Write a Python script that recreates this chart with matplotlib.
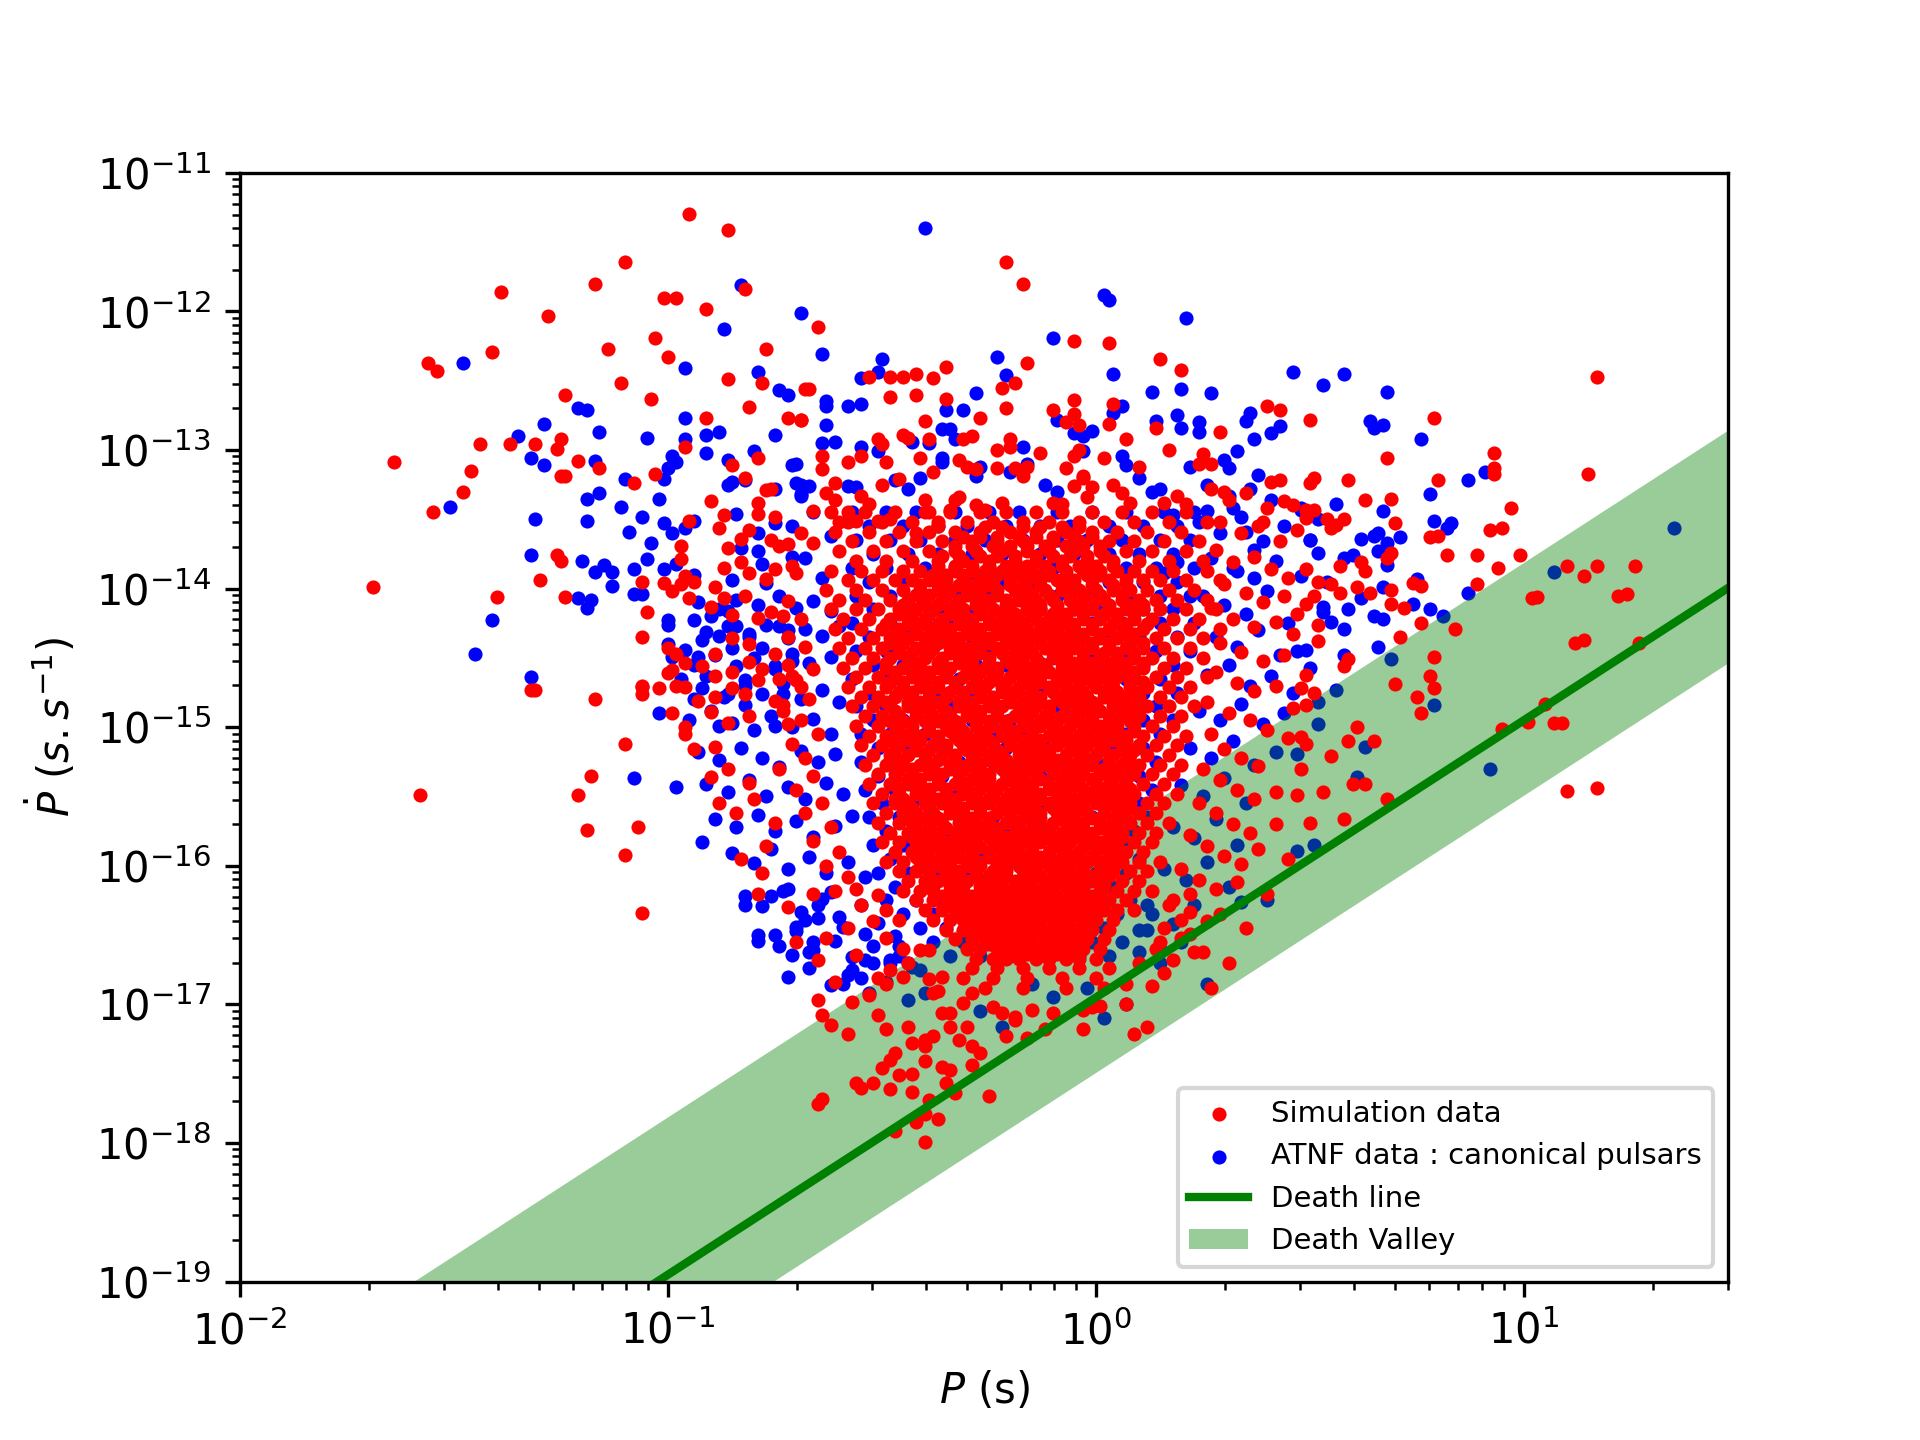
import numpy as np
import matplotlib
matplotlib.use("Agg")
from matplotlib import pyplot as plt

# ==================== Données ====================
# toutes les valeurs sont en log10 : "logP logPdot" par point

# simulation : points isolés (autour du nuage)
sim_points = """
-0.95 -11.30  -0.86 -11.41  -1.10 -11.64  -1.17 -11.80  -1.39 -11.86  -1.28 -12.03
-1.01 -11.90  -0.98 -11.90  -0.91 -11.98  -0.82 -11.84  -1.03 -12.19  -1.14 -12.27
-1.00 -12.33  -1.41 -12.29  -1.56 -12.37  -1.54 -12.43  -0.86 -12.49  -0.77 -12.27
-0.78 -12.52  -1.11 -12.52  -1.04 -12.63  -1.24 -12.60  -0.81 -12.69  -0.91 -12.77
-0.72 -12.77  -0.69 -12.78  -0.68 -12.56  -1.44 -12.96  -1.37 -12.96  -1.31 -12.96
-1.25 -12.92  -1.26 -12.99  -1.21 -13.08  -1.16 -13.13  -1.25 -13.19  -1.24 -13.19
-1.64 -13.09  -1.46 -13.15  -1.48 -13.30  -1.55 -13.45  -0.96 -12.98  -1.03 -13.17
-1.08 -13.24  -0.85 -13.11  -0.79 -13.06  -0.82 -13.20  -0.77 -13.29  -0.76 -13.28
-0.79 -13.38  -0.90 -13.37  -0.87 -13.47  -0.79 -13.46  -0.75 -13.48  -0.95 -13.51
-0.88 -13.56  -0.97 -13.69  -0.81 -13.58  -0.83 -13.64  -0.76 -13.65  -0.74 -13.69
-0.72 -13.68  -0.86 -13.71  -0.83 -13.81  -0.87 -13.85  -0.81 -13.89  -0.77 -13.93
-0.75 -13.86  -0.71 -13.84  -0.70 -13.89  -1.26 -13.76  -1.25 -13.80  -1.30 -13.94
-1.06 -13.95  -1.01 -13.96  -0.99 -14.02  -0.96 -13.91  -0.94 -13.95  -0.95 -14.07
-0.89 -13.99  -0.87 -14.07  -0.82 -14.05  -0.90 -14.13  -0.85 -14.19  -0.79 -14.21
-0.76 -14.17  -0.73 -14.20  -0.72 -14.09  -0.69 -14.22  -1.69 -13.99  -1.40 -14.06
-1.24 -14.06  -1.06 -14.35  -0.98 -14.47  -0.96 -14.54  -0.92 -14.56  -0.89 -14.63
-0.89 -14.47  -0.85 -14.36  -0.85 -14.60  -0.81 -14.40  -0.81 -14.53  -0.78 -14.58
-0.79 -14.66  -1.00 -14.61  -1.02 -14.72  -1.06 -14.71  -1.06 -14.76  -0.96 -14.71
-0.89 -14.78  -0.93 -14.81  -0.90 -14.89  -0.85 -14.72  -0.82 -14.76  -1.32 -14.73
-1.31 -14.73  -1.17 -14.80  -0.75 -14.47  -0.72 -14.55  -0.74 -14.65  -0.71 -14.63
-0.69 -14.71  -0.75 -14.81  -0.73 -14.84  -0.72 -14.98  -0.81 -14.92  -0.86 -14.97
-0.96 -15.00
-1.58 -15.49  -1.21 -15.49  -1.18 -15.35  -1.10 -15.12  -1.06 -16.34  -1.10 -15.92
-1.07 -15.72  -1.06 -14.70  -0.99 -14.90  -0.98 -14.70  -1.05 -14.17  -1.00 -14.43
-0.99 -14.59  -0.97 -13.97  -0.97 -13.79  -0.96 -15.05  -0.94 -15.16  -0.89 -15.14
-0.90 -15.36  -0.86 -15.30  -0.81 -15.40  -0.84 -15.62  -0.75 -15.69  -0.80 -15.52
-0.77 -15.86  -0.78 -16.05  -0.83 -15.95  -0.88 -15.55  -0.79 -16.20  -0.72 -16.30
-0.70 -16.55  -0.65 -16.68  -1.19 -15.74
-0.72 -14.35  -0.68 -14.42  -0.66 -14.58  -0.70 -14.66  -0.67 -14.80  -0.73 -14.88
-0.69 -14.95  -0.65 -15.05  -0.71 -15.12  -0.68 -15.22  -0.74 -15.30  -0.66 -15.35
-0.70 -15.45  -0.64 -15.55  -0.68 -15.62  -0.62 -15.72  -0.66 -15.82  -0.60 -15.90
-0.63 -16.00  -0.58 -16.08  -0.61 -16.18  -0.55 -16.28  -0.52 -16.40  -0.58 -16.45
-0.49 -16.52  -0.45 -16.60
-0.21 -11.64  -0.17 -11.80  -0.65 -12.11  -0.05 -12.21   0.03 -12.23   0.15 -12.34
 0.20 -12.42  -0.16 -12.37  -0.35 -12.40  -0.53 -12.47  -0.48 -12.47  -0.45 -12.47
-0.42 -12.45  -0.38 -12.48  -0.22 -12.55  -0.19 -12.52  -0.67 -12.56  -0.48 -12.62
-0.42 -12.60  -0.35 -12.63  -0.21 -12.70  -0.27 -12.77  -0.40 -12.79  -0.69 -12.78
-0.10 -12.71  -0.05 -12.64  -0.05 -12.74  -0.07 -12.80  -0.04 -12.82   0.04 -12.67
 0.03 -12.81   0.40 -12.68   0.43 -12.71   0.50 -12.78   0.14 -12.84   0.29 -12.87
 0.07 -12.92   0.17 -13.00  -0.51 -12.92  -0.50 -12.96  -0.45 -12.89  -0.44 -12.91
-0.39 -12.92  -0.31 -12.92  -0.29 -12.90  -0.23 -13.00  -0.20 -12.92  -0.20 -12.98
-0.13 -13.02  -0.04 -13.00  -0.05 -13.04   0.02 -13.06   0.10 -13.12   0.25 -13.03
 0.24 -13.10   0.27 -13.10  -0.64 -13.04  -0.64 -13.14  -0.58 -13.09  -0.55 -13.04
-0.49 -13.09  -0.41 -13.06  -0.38 -13.16  -0.32 -13.07  -0.30 -13.12  -0.28 -13.14
-0.23 -13.13  -0.19 -13.13  -0.16 -13.12  -0.17 -13.19  -0.07 -13.13  -0.03 -13.19
 0.30 -13.30   0.41 -13.23   0.43 -13.22   0.50 -13.24   0.46 -13.40   0.49 -13.49
 0.39 -13.52  -0.61 -13.24  -0.63 -13.31  -0.61 -13.36  -0.50 -13.25  -0.46 -13.21
-0.55 -13.33  -0.53 -13.39  -0.66 -13.44  -0.69 -13.60  -0.66 -13.67  -0.60 -13.52
-0.58 -13.45  -0.56 -13.51  -0.51 -13.51  -0.48 -13.50  -0.40 -13.36  -0.39 -13.45
-0.37 -13.55  -0.42 -13.60  -0.33 -13.36  -0.32 -13.34  -0.34 -13.43  -0.28 -13.40
-0.26 -13.43  -0.22 -13.38  -0.10 -13.38  -0.08 -13.39  -0.05 -13.26  -0.03 -13.20
-0.01 -13.27  -0.02 -13.34   0.04 -13.25   0.06 -13.31   0.08 -13.38   0.16 -13.38
 0.19 -13.33   0.21 -13.39
 0.27 -13.28   0.31 -13.36   0.35 -13.31   0.40 -13.42   0.44 -13.37   0.29 -13.52
 0.34 -13.60   0.38 -13.55   0.43 -13.66   0.47 -13.58   0.28 -13.72   0.32 -13.81
 0.37 -13.77   0.41 -13.86   0.45 -13.92   0.30 -13.97   0.35 -14.03   0.39 -14.10
 0.44 -14.05   0.27 -14.14   0.32 -14.22   0.37 -14.28   0.42 -14.24   0.46 -14.33
 0.29 -14.39   0.34 -14.46   0.39 -14.52   0.44 -14.48   0.28 -14.60   0.33 -14.68
 0.37 -14.74   0.42 -14.70   0.26 -14.82   0.31 -14.90   0.36 -14.95   0.40 -15.02
 0.45 -15.08   0.27 -15.05   0.30 -15.16   0.34 -15.22   0.38 -15.28   0.25 -15.30
 0.29 -15.38   0.33 -15.45   0.37 -15.52   0.42 -15.47   0.24 -15.55   0.28 -15.62
 0.32 -15.70   0.36 -15.76   0.22 -15.78   0.26 -15.86   0.30 -15.93   0.34 -15.99
 0.20 -16.02   0.24 -16.10   0.28 -16.17   0.18 -16.25   0.22 -16.33   0.26 -16.40
 0.16 -16.45   0.20 -16.52   0.14 -16.60   0.18 -16.68   0.23 -16.62   0.47 -14.18
 0.49 -14.62   0.46 -14.86   0.48 -15.30
 1.17 -12.47   0.79 -12.77   0.68 -13.06   0.93 -13.02   0.93 -13.13   0.93 -13.17
 1.15 -13.17   0.80 -13.22   0.51 -13.20   0.59 -13.22   0.63 -13.36   0.69 -13.35
 0.97 -13.42   0.70 -13.53   0.92 -13.58   0.78 -13.63   0.80 -13.62   0.82 -13.76
 0.89 -13.76   0.99 -13.76   1.10 -13.84   1.14 -13.91   1.17 -13.84   1.26 -13.84
 1.22 -14.05   1.02 -14.07   0.89 -13.97   0.76 -13.98   0.74 -13.96   0.54 -13.50
 0.56 -13.54   0.58 -13.50   0.55 -13.56   0.57 -13.84   0.62 -13.81   0.63 -13.87
 0.61 -13.99   0.64 -14.03   0.69 -13.74   0.68 -13.78   0.69 -14.01   0.69 -14.11
 0.72 -14.14   0.49 -13.86   0.52 -13.95   0.51 -14.05   0.49 -14.11   0.55 -13.97
 0.57 -14.03   0.52 -14.26   0.52 -14.38   0.49 -13.43   0.51 -13.43   0.76 -14.25
 0.71 -14.35   0.84 -14.29   1.12 -14.39   0.79 -14.49   0.59 -14.51   0.58 -14.56
 0.78 -14.63   0.79 -14.72   0.70 -14.69   0.75 -14.78   0.76 -14.90   0.48 -14.72
 0.51 -14.75   0.49 -14.84   0.61 -15.00   0.65 -15.10   0.48 -15.07   0.49 -15.12
 0.55 -15.21   0.63 -15.41   0.47 -15.49   1.07 -14.97   0.95 -15.01   0.68 -15.52
 0.58 -15.66   1.17 -15.44   1.10 -15.46   1.09 -14.97   1.01 -14.96   1.05 -14.83
 1.27 -14.39   1.14 -14.37   1.03 -14.06   0.95 -13.56   0.94 -13.85   1.24 -14.04
 0.59 -15.10   0.60 -15.41   0.50 -15.69   0.53 -15.47   0.42 -15.70   0.38 -15.88
 0.45 -15.95   0.33 -16.12   0.40 -16.20   0.29 -16.35   0.35 -16.45   0.25 -16.62
 0.31 -16.70   0.27 -16.88
-0.65 -17.72  -0.64 -17.68  -0.56 -17.57  -0.55 -17.60  -0.52 -17.57  -0.48 -17.61
-0.50 -17.46  -0.48 -17.40  -0.47 -17.35  -0.46 -17.51  -0.43 -17.50  -0.43 -17.63
-0.40 -17.41  -0.35 -17.57  -0.34 -17.47  -0.33 -17.64  -0.36 -17.45  -0.29 -17.44
-0.25 -17.66  -0.39 -17.69  -0.40 -17.79  -0.37 -17.83  -0.42 -17.85  -0.47 -17.91
-0.40 -17.99  -0.44 -17.16  -0.43 -17.28  -0.40 -17.26  -0.38 -17.23  -0.40 -17.30
-0.49 -17.18  -0.51 -17.08  -0.53 -16.93  -0.58 -17.21  -0.62 -17.15  -0.64 -17.08
-0.65 -16.97  -0.57 -16.98  -0.61 -16.84  -0.34 -17.16  -0.32 -17.26  -0.29 -17.30
-0.27 -17.35  -0.36 -17.06  -0.34 -17.06  -0.30 -17.16  -0.31 -16.99  -0.29 -16.92
-0.24 -17.02  -0.22 -17.06  -0.19 -17.11  -0.21 -17.23  -0.16 -17.24  -0.19 -17.09
-0.12 -17.18  -0.10 -17.06  -0.15 -17.04  -0.03 -17.18  -0.03 -17.04  -0.01 -17.02
 0.01 -17.01   0.09 -17.21   0.12 -17.16   0.07 -17.00   0.13 -16.87   0.16 -16.77
 0.07 -16.85   0.10 -16.70   0.20 -16.39   0.22 -16.49   0.15 -16.55   0.17 -16.28
 0.22 -16.20  -0.38 -16.92  -0.36 -16.80  -0.39 -16.82  -0.37 -16.90  -0.44 -16.70
-0.41 -16.61  -0.39 -16.61  -0.48 -16.75  -0.45 -16.80  -0.51 -16.81  -0.49 -16.85
-0.56 -16.64  -0.63 -16.52  -0.66 -16.20  -0.56 -16.17  -0.51 -16.21  -0.49 -16.32
-0.46 -16.39
"""

# simulation : coeur dense du nuage, par rangées "logPdot: logP logP ..."
sim_core = """
-13.45: -0.62 -0.54 -0.47 -0.40 -0.34 -0.27 -0.21 -0.14 -0.08 -0.01 0.06 0.13 0.21
-13.52: -0.58 -0.50 -0.43 -0.37 -0.30 -0.24 -0.17 -0.11 -0.04 0.02 0.09 0.17 0.26
-13.59: -0.61 -0.53 -0.46 -0.39 -0.33 -0.27 -0.20 -0.14 -0.07 -0.01 0.05 0.12 0.20
-13.66: -0.57 -0.49 -0.42 -0.36 -0.29 -0.23 -0.17 -0.10 -0.04 0.03 0.09 0.16 0.24
-13.73: -0.60 -0.52 -0.45 -0.39 -0.33 -0.28 -0.22 -0.16 -0.11 -0.05 0.01 0.07 0.13 0.21
-13.80: -0.56 -0.49 -0.43 -0.37 -0.31 -0.25 -0.19 -0.14 -0.08 -0.02 0.04 0.10 0.17 0.25
-13.87: -0.62 -0.55 -0.50 -0.45 -0.41 -0.37 -0.33 -0.29 -0.26 -0.22 -0.18 -0.15 -0.11 -0.07 -0.03 0.01 0.05 0.09 0.13 0.18 0.26
-13.94: -0.58 -0.52 -0.47 -0.43 -0.39 -0.35 -0.31 -0.27 -0.24 -0.20 -0.16 -0.13 -0.09 -0.05 -0.01 0.03 0.07 0.11 0.15 0.21 0.29
-14.01: -0.63 -0.56 -0.50 -0.45 -0.41 -0.37 -0.34 -0.30 -0.27 -0.23 -0.19 -0.16 -0.12 -0.08 -0.04 0.00 0.04 0.08 0.12 0.17 0.23
-14.08: -0.60 -0.54 -0.48 -0.44 -0.40 -0.36 -0.32 -0.28 -0.25 -0.21 -0.18 -0.14 -0.10 -0.06 -0.02 0.02 0.06 0.10 0.14 0.19 0.26
-14.15: -0.62 -0.56 -0.51 -0.46 -0.42 -0.38 -0.34 -0.31 -0.27 -0.24 -0.20 -0.16 -0.13 -0.09 -0.05 -0.01 0.03 0.07 0.11 0.15 0.21 0.28
-14.22: -0.59 -0.53 -0.48 -0.44 -0.40 -0.36 -0.32 -0.29 -0.25 -0.22 -0.18 -0.14 -0.11 -0.07 -0.03 0.01 0.05 0.09 0.13 0.18 0.24
-14.29: -0.61 -0.55 -0.50 -0.46 -0.42 -0.38 -0.34 -0.30 -0.27 -0.23 -0.20 -0.16 -0.12 -0.09 -0.05 -0.01 0.03 0.07 0.11 0.16 0.22 0.29
-14.36: -0.58 -0.52 -0.48 -0.44 -0.40 -0.36 -0.32 -0.28 -0.25 -0.21 -0.18 -0.14 -0.10 -0.07 -0.03 0.01 0.05 0.09 0.14 0.19 0.25
-14.43: -0.60 -0.54 -0.50 -0.46 -0.42 -0.38 -0.34 -0.30 -0.27 -0.23 -0.19 -0.16 -0.12 -0.08 -0.05 -0.01 0.03 0.07 0.11 0.16 0.22
-14.50: -0.57 -0.52 -0.48 -0.44 -0.40 -0.36 -0.32 -0.29 -0.25 -0.21 -0.18 -0.14 -0.10 -0.07 -0.03 0.01 0.05 0.09 0.13 0.18 0.25
-14.57: -0.59 -0.54 -0.49 -0.45 -0.41 -0.37 -0.34 -0.30 -0.26 -0.23 -0.19 -0.15 -0.12 -0.08 -0.04 0.00 0.03 0.07 0.11 0.16 0.21
-14.64: -0.56 -0.51 -0.47 -0.43 -0.39 -0.35 -0.31 -0.28 -0.24 -0.20 -0.17 -0.13 -0.09 -0.06 -0.02 0.02 0.05 0.09 0.14 0.19 0.26
-14.71: -0.58 -0.53 -0.49 -0.45 -0.41 -0.37 -0.33 -0.29 -0.26 -0.22 -0.18 -0.15 -0.11 -0.07 -0.04 0.00 0.04 0.08 0.12 0.17 0.22
-14.78: -0.55 -0.51 -0.47 -0.43 -0.39 -0.35 -0.31 -0.27 -0.24 -0.20 -0.16 -0.13 -0.09 -0.05 -0.02 0.02 0.06 0.10 0.15 0.20
-14.85: -0.57 -0.52 -0.48 -0.44 -0.40 -0.36 -0.32 -0.29 -0.25 -0.22 -0.18 -0.14 -0.11 -0.07 -0.03 0.00 0.04 0.08 0.12 0.17 0.23
-14.92: -0.54 -0.50 -0.46 -0.42 -0.38 -0.34 -0.30 -0.27 -0.23 -0.19 -0.16 -0.12 -0.08 -0.05 -0.01 0.03 0.06 0.10 0.15 0.20
-14.99: -0.56 -0.51 -0.47 -0.43 -0.39 -0.35 -0.32 -0.28 -0.24 -0.21 -0.17 -0.13 -0.10 -0.06 -0.02 0.01 0.05 0.09 0.13 0.18
-15.06: -0.53 -0.49 -0.45 -0.41 -0.37 -0.33 -0.30 -0.26 -0.22 -0.19 -0.15 -0.11 -0.08 -0.04 0.00 0.03 0.07 0.11 0.16 0.21
-15.13: -0.55 -0.50 -0.46 -0.42 -0.38 -0.35 -0.31 -0.27 -0.24 -0.20 -0.16 -0.13 -0.09 -0.05 -0.02 0.02 0.06 0.10 0.14 0.19
-15.20: -0.52 -0.48 -0.44 -0.40 -0.36 -0.33 -0.29 -0.25 -0.22 -0.18 -0.14 -0.11 -0.07 -0.03 0.00 0.04 0.08 0.12 0.17
-15.27: -0.54 -0.49 -0.45 -0.41 -0.38 -0.34 -0.30 -0.27 -0.23 -0.19 -0.16 -0.12 -0.08 -0.05 -0.01 0.03 0.06 0.10 0.15 0.20
-15.34: -0.51 -0.47 -0.43 -0.39 -0.36 -0.32 -0.28 -0.25 -0.21 -0.17 -0.14 -0.10 -0.06 -0.03 0.01 0.05 0.09 0.13 0.18
-15.41: -0.53 -0.48 -0.44 -0.41 -0.37 -0.33 -0.30 -0.26 -0.22 -0.19 -0.15 -0.11 -0.08 -0.04 0.00 0.03 0.07 0.11 0.16
-15.48: -0.50 -0.46 -0.42 -0.39 -0.35 -0.31 -0.28 -0.24 -0.20 -0.17 -0.13 -0.09 -0.06 -0.02 0.02 0.05 0.09 0.14 0.19
-15.55: -0.52 -0.47 -0.44 -0.40 -0.36 -0.33 -0.29 -0.25 -0.22 -0.18 -0.15 -0.11 -0.07 -0.04 0.00 0.04 0.08 0.12 0.16
-15.62: -0.49 -0.45 -0.42 -0.38 -0.34 -0.31 -0.27 -0.23 -0.20 -0.16 -0.13 -0.09 -0.05 -0.02 0.02 0.06 0.10 0.14
-15.69: -0.51 -0.46 -0.43 -0.39 -0.36 -0.32 -0.28 -0.25 -0.21 -0.18 -0.14 -0.10 -0.07 -0.03 0.01 0.04 0.08 0.12 0.17
-15.76: -0.48 -0.44 -0.41 -0.37 -0.33 -0.30 -0.26 -0.23 -0.19 -0.15 -0.12 -0.08 -0.05 -0.01 0.03 0.06 0.10 0.14
-15.83: -0.50 -0.46 -0.42 -0.38 -0.35 -0.31 -0.28 -0.24 -0.20 -0.17 -0.13 -0.10 -0.06 -0.02 0.01 0.05 0.09 0.13
-15.90: -0.47 -0.43 -0.40 -0.36 -0.33 -0.29 -0.25 -0.22 -0.18 -0.15 -0.11 -0.07 -0.04 0.00 0.03 0.07 0.11
-15.97: -0.49 -0.45 -0.41 -0.38 -0.34 -0.30 -0.27 -0.23 -0.20 -0.16 -0.12 -0.09 -0.05 -0.02 0.02 0.06 0.10 0.15
-16.04: -0.46 -0.42 -0.39 -0.35 -0.32 -0.28 -0.24 -0.21 -0.17 -0.14 -0.10 -0.07 -0.03 0.01 0.04 0.08 0.12
-16.11: -0.44 -0.40 -0.37 -0.33 -0.30 -0.26 -0.23 -0.19 -0.16 -0.12 -0.08 -0.05 -0.01 0.02 0.06 0.10
-16.18: -0.45 -0.41 -0.38 -0.34 -0.31 -0.27 -0.24 -0.20 -0.17 -0.13 -0.10 -0.06 -0.03 0.01 0.05 0.09 0.13
-16.25: -0.42 -0.38 -0.35 -0.31 -0.28 -0.25 -0.21 -0.18 -0.14 -0.11 -0.07 -0.04 0.00 0.03 0.07
-16.32: -0.40 -0.36 -0.33 -0.29 -0.26 -0.22 -0.19 -0.15 -0.12 -0.09 -0.05 -0.02 0.02 0.05 0.09
-16.39: -0.38 -0.34 -0.31 -0.27 -0.24 -0.20 -0.17 -0.14 -0.10 -0.07 -0.03 0.00 0.04
-16.46: -0.35 -0.31 -0.28 -0.25 -0.21 -0.18 -0.15 -0.11 -0.08 -0.04 -0.01 0.03
-16.53: -0.33 -0.29 -0.26 -0.22 -0.19 -0.16 -0.12 -0.09 -0.05 -0.02 0.02
-16.60: -0.30 -0.27 -0.23 -0.20 -0.17 -0.13 -0.10 -0.06 -0.03 0.01
-16.67: -0.28 -0.24 -0.21 -0.18 -0.14 -0.11 -0.07 -0.04 0.00
-16.74: -0.29 -0.23 -0.17 -0.11 -0.04 0.03
-16.81: -0.31 -0.24 -0.16 -0.08 0.00
-16.88: -0.26 -0.17 -0.07 0.02
"""

# simulation : centre le plus serré du coeur (rangées intercalées)
sim_centre = """
-13.555: -0.26 -0.22 -0.17 -0.13 -0.08 -0.04
-13.625: -0.31 -0.27 -0.23 -0.18 -0.14 -0.10 -0.05 -0.01
-13.695: -0.33 -0.29 -0.24 -0.20 -0.16 -0.12 -0.07 -0.03 0.01
-13.765: -0.36 -0.32 -0.27 -0.23 -0.19 -0.14 -0.10 -0.06 -0.02 0.02
-13.835: -0.37 -0.33 -0.29 -0.25 -0.21 -0.16 -0.12 -0.08 -0.04 0.00 0.04
-13.905: -0.38 -0.35 -0.31 -0.26 -0.23 -0.19 -0.14 -0.11 -0.07 -0.02 0.01
-13.975: -0.41 -0.37 -0.32 -0.29 -0.25 -0.20 -0.17 -0.13 -0.08 -0.05 -0.01 0.04 0.07
-14.045: -0.42 -0.39 -0.35 -0.30 -0.27 -0.23 -0.18 -0.15 -0.11 -0.06 -0.03 0.01 0.06
-14.115: -0.45 -0.40 -0.37 -0.33 -0.28 -0.25 -0.21 -0.16 -0.13 -0.09 -0.04 -0.01 0.03 0.08 0.11
-14.185: -0.46 -0.43 -0.39 -0.34 -0.31 -0.27 -0.22 -0.19 -0.15 -0.10 -0.07 -0.03 0.02 0.05 0.09
-14.255: -0.49 -0.44 -0.41 -0.37 -0.32 -0.29 -0.25 -0.20 -0.17 -0.13 -0.08 -0.05 -0.01 0.04 0.07 0.12
-14.325: -0.47 -0.42 -0.39 -0.35 -0.30 -0.27 -0.23 -0.18 -0.15 -0.11 -0.06 -0.03 0.01 0.06 0.09
-14.395: -0.48 -0.45 -0.40 -0.37 -0.33 -0.28 -0.25 -0.21 -0.16 -0.13 -0.09 -0.04 -0.01 0.03 0.08 0.11
-14.465: -0.46 -0.43 -0.39 -0.34 -0.31 -0.27 -0.22 -0.19 -0.15 -0.10 -0.07 -0.03 0.02 0.05 0.09
-14.535: -0.49 -0.44 -0.41 -0.37 -0.32 -0.29 -0.25 -0.20 -0.17 -0.13 -0.08 -0.05 -0.01 0.04 0.07 0.11
-14.605: -0.47 -0.42 -0.39 -0.35 -0.30 -0.27 -0.23 -0.18 -0.15 -0.11 -0.06 -0.03 0.01 0.06 0.09
-14.675: -0.48 -0.45 -0.40 -0.37 -0.33 -0.28 -0.25 -0.21 -0.16 -0.13 -0.09 -0.04 -0.01 0.03 0.08 0.11
-14.745: -0.46 -0.43 -0.39 -0.34 -0.31 -0.27 -0.22 -0.19 -0.15 -0.10 -0.07 -0.03 0.02 0.05 0.09
-14.815: -0.49 -0.44 -0.41 -0.37 -0.32 -0.29 -0.25 -0.20 -0.17 -0.13 -0.08 -0.05 -0.01 0.04 0.07 0.10
-14.885: -0.47 -0.42 -0.39 -0.35 -0.30 -0.27 -0.23 -0.18 -0.15 -0.11 -0.06 -0.03 0.01 0.06 0.09
-14.955: -0.48 -0.45 -0.40 -0.37 -0.33 -0.28 -0.25 -0.21 -0.16 -0.13 -0.09 -0.04 -0.01 0.03 0.08
-15.025: -0.46 -0.43 -0.39 -0.34 -0.31 -0.27 -0.22 -0.19 -0.15 -0.10 -0.07 -0.03 0.02 0.05 0.09
-15.095: -0.48 -0.44 -0.41 -0.37 -0.32 -0.29 -0.25 -0.20 -0.17 -0.13 -0.08 -0.05 -0.01 0.04 0.07
-15.165: -0.47 -0.42 -0.39 -0.35 -0.30 -0.27 -0.23 -0.18 -0.15 -0.11 -0.06 -0.03 0.01 0.06 0.09
-15.235: -0.48 -0.45 -0.40 -0.37 -0.33 -0.28 -0.25 -0.21 -0.16 -0.13 -0.09 -0.04 -0.01 0.03 0.07
-15.305: -0.46 -0.43 -0.39 -0.34 -0.31 -0.27 -0.22 -0.19 -0.15 -0.10 -0.07 -0.03 0.02 0.05 0.08
-15.375: -0.47 -0.44 -0.41 -0.37 -0.32 -0.29 -0.25 -0.20 -0.17 -0.13 -0.08 -0.05 -0.01 0.04 0.07
-15.445: -0.46 -0.42 -0.39 -0.35 -0.30 -0.27 -0.23 -0.18 -0.15 -0.11 -0.06 -0.03 0.01 0.05 0.08
-15.515: -0.47 -0.45 -0.40 -0.37 -0.33 -0.28 -0.25 -0.21 -0.16 -0.13 -0.09 -0.04 -0.01 0.03 0.07
-15.585: -0.45 -0.43 -0.39 -0.34 -0.31 -0.27 -0.22 -0.19 -0.15 -0.10 -0.07 -0.03 0.02 0.05 0.08
-15.655: -0.44 -0.41 -0.37 -0.32 -0.29 -0.25 -0.20 -0.17 -0.13 -0.08 -0.05 -0.01 0.04 0.07
-15.725: -0.42 -0.39 -0.35 -0.30 -0.27 -0.23 -0.18 -0.15 -0.11 -0.06 -0.03 0.01 0.05
-15.795: -0.43 -0.40 -0.37 -0.33 -0.28 -0.25 -0.21 -0.16 -0.13 -0.09 -0.04 -0.01 0.03 0.06
-15.865: -0.41 -0.38 -0.34 -0.31 -0.27 -0.22 -0.19 -0.15 -0.10 -0.07 -0.03 0.02 0.05
-15.935: -0.42 -0.39 -0.36 -0.32 -0.29 -0.25 -0.20 -0.17 -0.13 -0.08 -0.05 -0.01 0.04
-16.005: -0.40 -0.37 -0.34 -0.30 -0.27 -0.23 -0.18 -0.15 -0.11 -0.06 -0.03 0.01 0.04
-16.075: -0.39 -0.35 -0.32 -0.28 -0.25 -0.21 -0.16 -0.13 -0.09 -0.04 -0.01 0.03
-16.145: -0.38 -0.34 -0.31 -0.27 -0.22 -0.19 -0.15 -0.10 -0.07 -0.03 0.02
-16.215: -0.36 -0.33 -0.29 -0.26 -0.23 -0.20 -0.16 -0.12 -0.09 -0.05 -0.01 0.02
-16.285: -0.34 -0.31 -0.27 -0.24 -0.21 -0.17 -0.14 -0.10 -0.07 -0.03 0.00
-16.355: -0.32 -0.29 -0.25 -0.22 -0.18 -0.15 -0.12 -0.08 -0.05 -0.01
-16.425: -0.30 -0.26 -0.23 -0.20 -0.16 -0.13 -0.09 -0.06 -0.02
-16.495: -0.27 -0.24 -0.20 -0.17 -0.14 -0.10 -0.07 -0.03
-16.565: -0.25 -0.21 -0.18 -0.15 -0.11 -0.08 -0.04
-16.635: -0.22 -0.19 -0.16 -0.12 -0.09 -0.05
"""

# ATNF : points isolés
atnf_points = """
-0.40 -11.40   0.02 -11.88   0.03 -11.92   0.21 -12.05  -0.10 -12.19  -0.69 -12.01
-0.83 -11.81  -0.87 -12.13  -1.48 -12.37  -0.96 -12.41  -0.79 -12.44  -0.74 -12.57
-0.72 -12.60  -1.21 -12.70  -1.19 -12.71  -1.29 -12.81  -1.35 -12.90  -1.16 -12.87
-1.05 -12.91  -0.96 -12.77  -0.96 -12.92  -0.91 -12.89  -0.88 -12.87  -0.91 -13.02
-0.75 -12.89  -0.80 -13.01  -0.86 -13.07  -0.71 -13.11  -1.32 -13.06  -1.29 -13.11
-1.17 -13.08  -1.10 -13.21  -0.99 -13.04  -0.98 -13.09  -1.00 -13.13  -1.01 -13.21
-0.86 -13.25  -0.85 -13.23  -0.82 -13.22  -0.75 -13.28  -0.70 -13.24  -0.69 -13.33
-1.19 -13.35  -1.16 -13.31  -1.11 -13.41  -1.02 -13.35  -1.51 -13.41  -1.31 -13.50
-1.19 -13.51  -1.06 -13.48  -1.09 -13.59  -1.01 -13.53  -0.99 -13.60  -0.96 -13.56
-0.94 -13.51  -1.04 -13.67  -0.84 -13.46  -0.79 -13.60  -0.79 -13.73  -0.78 -13.82
-0.83 -13.71  -0.75 -13.53  -0.71 -13.55  -0.71 -13.77  -1.32 -13.76  -1.20 -13.80
-1.17 -13.88  -1.15 -13.83  -1.13 -13.88  -1.13 -13.98  -1.08 -13.86  -1.05 -13.79
-1.01 -13.86  -0.98 -13.82  -0.94 -13.90  -1.08 -14.04  -1.06 -14.04  -1.21 -14.07
-1.18 -14.08  -1.19 -14.14  -0.85 -13.94  -0.77 -13.96  -0.90 -14.20  -0.86 -14.16
-1.00 -14.23  -1.00 -14.26  -0.94 -14.23  -0.84 -14.27  -0.74 -14.27  -0.72 -14.30
-1.41 -14.23  -1.45 -14.47  -1.32 -14.64  -0.92 -14.37  -0.88 -14.34  -0.85 -14.43
-0.81 -14.35  -0.78 -14.43  -0.96 -14.44  -0.99 -14.49  -0.93 -14.49  -0.91 -14.63
-0.82 -14.66  -0.86 -14.76  -0.82 -14.84  -0.75 -14.56  -0.71 -14.52  -0.73 -14.76
-0.94 -14.80  -0.88 -14.99  -0.75 -14.99  -1.02 -14.90  -1.08 -15.37  -0.98 -15.43
-0.92 -15.83
-0.64 -12.31  -0.50 -12.34  -0.23 -12.33  -0.21 -12.46   0.04 -12.45   0.46 -12.44
-0.55 -12.48  -0.51 -12.44   0.13 -12.58   0.20 -12.56   0.27 -12.59  -0.63 -12.65
-0.63 -12.68  -0.58 -12.68  -0.55 -12.67  -0.28 -12.59  -0.35 -12.71  -0.31 -12.71
 0.04 -12.73   0.06 -12.68  -0.09 -12.78   0.14 -12.79   0.19 -12.75   0.20 -12.84
 0.24 -12.80   0.24 -12.87   0.36 -12.73   0.35 -12.79   0.43 -12.83   0.41 -12.88
 0.37 -12.92  -0.63 -12.82  -0.64 -12.95  -0.61 -12.94  -0.43 -12.94  -0.39 -12.95
-0.36 -12.85  -0.34 -12.85  -0.33 -12.92  -0.17 -12.98  -0.05 -12.88  -0.03 -12.90
-0.01 -12.86  -0.03 -13.01   0.06 -13.04   0.07 -13.11   0.22 -13.12   0.30 -13.07
 0.33 -13.01   0.31 -13.13   0.38 -13.18  -0.55 -12.98  -0.51 -13.01  -0.36 -13.06
-0.36 -13.09  -0.27 -13.12  -0.28 -13.19  -0.20 -13.16  -0.16 -13.10  -0.70 -13.10
-0.69 -13.25  -0.67 -13.26  -0.69 -13.32  -0.58 -13.26  -0.56 -13.27   0.13 -13.30
 0.15 -13.28   0.18 -13.47   0.26 -13.44   0.32 -13.42   0.35 -13.59   0.37 -13.72
 0.48 -13.43   0.50 -13.65   0.16 -13.89   0.19 -13.81   0.33 -13.87  -0.47 -13.22
-0.44 -13.28  -0.41 -13.20  -0.12 -13.25  -0.09 -13.30   0.10 -13.20   0.58 -12.45
 0.68 -12.58
 0.53 -12.53   0.64 -12.79   0.65 -12.84   0.67 -12.82   0.76 -12.92   0.87 -13.22
 0.91 -13.16   0.78 -13.32   0.79 -13.51   0.82 -13.56   0.83 -13.53   0.56 -13.39
 0.67 -13.44   0.48 -13.42   0.52 -13.50   0.62 -13.64   0.65 -13.62   0.66 -13.60
 0.68 -13.67   0.71 -13.63   0.50 -13.65   0.52 -13.74   0.58 -13.78   0.60 -13.76
 0.66 -13.73   0.68 -13.83   0.54 -13.95   0.48 -13.91   0.67 -13.99   0.62 -14.07
 0.75 -13.93   0.74 -14.11   0.53 -14.13   0.53 -14.17   0.59 -14.15   0.65 -14.20
 0.67 -14.22   0.78 -14.15   0.55 -14.24   0.58 -14.29   0.49 -14.44   0.47 -14.45
 0.58 -14.48   0.50 -14.57   0.66 -14.42   0.87 -14.03
 0.81 -14.20   0.69 -14.51   0.56 -14.73   0.52 -14.82   0.79 -14.84   0.52 -14.98
 0.63 -15.14   0.61 -15.36   0.47 -15.19   0.92 -15.30   1.07 -13.88   1.35 -13.56
 0.47 -15.89   0.51 -15.85
 0.40 -16.25   0.26 -16.85   0.07 -17.00  -0.27 -17.05  -0.22 -17.16  -0.40 -16.92
-0.41 -16.75  -0.43 -16.73  -0.44 -16.70   0.12 -16.46   0.10 -16.46   0.12 -16.28
-0.20 -16.41  -0.18 -16.41  -0.32 -16.22  -0.06 -16.21  -0.05 -16.20  -0.10 -16.95
-0.02 -16.88   0.02 -17.10  -0.15 -16.85   0.34 -16.26   0.15 -16.60
-0.82 -16.28  -0.79 -16.54  -0.75 -16.50  -0.71 -16.64  -0.67 -16.62  -0.72 -16.17
-0.76 -16.22  -0.70 -16.44  -0.68 -16.39  -0.65 -16.38  -0.66 -16.55  -0.65 -16.28
-0.62 -16.19  -0.59 -16.44  -0.57 -16.75  -0.55 -16.81  -0.59 -16.85  -0.54 -16.68
-0.52 -16.70  -0.54 -16.49  -0.47 -16.51  -0.46 -16.58  -0.46 -16.65  -0.48 -16.68
-0.93 -14.10  -0.88 -14.15  -0.84 -14.08  -0.79 -14.12  -0.74 -14.05  -0.70 -14.14
-0.66 -14.09  -0.62 -14.16  -0.91 -14.31  -0.86 -14.27  -0.81 -14.33  -0.77 -14.26
-0.72 -14.36  -0.68 -14.29  -0.64 -14.34  -0.60 -14.27  -0.94 -14.55  -0.89 -14.48
-0.84 -14.56  -0.80 -14.50  -0.75 -14.58  -0.71 -14.47  -0.67 -14.54  -0.62 -14.49
-0.92 -14.72  -0.87 -14.78  -0.82 -14.70  -0.78 -14.76  -0.73 -14.69  -0.69 -14.80
-0.64 -14.73  -0.60 -14.82  -0.95 -14.95  -0.90 -14.88  -0.85 -14.97  -0.80 -15.02
-0.76 -14.92  -0.71 -15.00  -0.66 -14.94  -0.62 -15.05  -0.93 -15.18  -0.88 -15.24
-0.83 -15.15  -0.78 -15.22  -0.74 -15.29  -0.69 -15.17  -0.65 -15.25  -0.61 -15.19
-0.91 -15.41  -0.86 -15.47  -0.81 -15.38  -0.77 -15.50  -0.72 -15.43  -0.68 -15.52
-0.63 -15.40  -0.59 -15.48  -0.89 -15.66  -0.84 -15.72  -0.79 -15.63  -0.75 -15.75
-0.70 -15.68  -0.66 -15.79  -0.61 -15.71  -0.57 -15.64  -0.85 -15.91  -0.80 -15.98
-0.76 -15.88  -0.72 -16.02  -0.67 -15.94  -0.63 -16.05  -0.58 -15.97  -0.54 -16.08
-0.82 -16.22  -0.78 -16.29  -0.73 -16.18  -0.69 -16.33  -0.64 -16.24  -0.60 -16.37
-0.55 -16.28  -0.51 -16.41  -0.79 -16.50  -0.74 -16.58  -0.70 -16.47  -0.66 -16.61
-0.61 -16.54  -0.57 -16.66  -0.52 -16.58  -0.48 -16.70  -0.72 -16.80  -0.67 -16.74
-0.62 -16.86  -0.58 -16.79  -0.53 -16.92  -0.49 -16.84  -0.44 -16.97  -0.66 -13.45
-0.62 -13.62  -0.68 -13.78  -0.64 -13.92  -0.97 -14.65  -1.00 -14.40
 0.26 -13.25   0.31 -13.33   0.36 -13.28   0.41 -13.36   0.24 -13.52   0.29 -13.60
 0.34 -13.48   0.39 -13.66   0.44 -13.55   0.27 -13.78   0.32 -13.85   0.37 -13.92
 0.42 -13.80   0.25 -14.05   0.30 -14.12   0.35 -14.18   0.40 -14.02   0.45 -14.25
 0.28 -14.35   0.33 -14.42   0.38 -14.30   0.43 -14.48   0.26 -14.62   0.31 -14.55
 0.36 -14.70   0.41 -14.63   0.46 -14.75   0.24 -14.88   0.29 -14.95   0.34 -14.83
 0.39 -14.98   0.44 -14.90   0.22 -15.15   0.27 -15.22   0.32 -15.10   0.37 -15.27
 0.42 -15.18   0.20 -15.42   0.25 -15.50   0.30 -15.37   0.35 -15.55   0.18 -15.72
 0.23 -15.80   0.28 -15.66   0.33 -15.85   0.16 -16.02   0.21 -16.10   0.26 -15.97
 0.31 -16.15   0.13 -16.35   0.18 -16.42   0.23 -16.28   0.10 -16.62   0.15 -16.70
 0.20 -16.55
"""

# ATNF : partie dense (sous les points rouges)
atnf_core = """
-13.45: -0.57 -0.49 -0.42 -0.33 -0.25 -0.18 -0.09 -0.01 0.07 0.16 0.23
-13.55: -0.53 -0.45 -0.37 -0.30 -0.21 -0.13 -0.06 0.03 0.11 0.19
-13.65: -0.56 -0.48 -0.41 -0.33 -0.26 -0.17 -0.09 -0.02 0.06 0.15 0.22
-13.75: -0.52 -0.44 -0.37 -0.29 -0.22 -0.13 -0.05 0.03 0.10 0.18
-13.85: -0.57 -0.49 -0.40 -0.33 -0.25 -0.18 -0.10 -0.01 0.07 0.14 0.23
-13.95: -0.53 -0.45 -0.36 -0.29 -0.21 -0.14 -0.06 0.03 0.11 0.19
-14.05: -0.56 -0.48 -0.41 -0.32 -0.25 -0.17 -0.09 -0.02 0.07 0.15 0.22
-14.15: -0.52 -0.44 -0.37 -0.28 -0.21 -0.13 -0.05 0.02 0.11 0.18
-14.25: -0.57 -0.48 -0.40 -0.33 -0.24 -0.17 -0.09 -0.01 0.06 0.15 0.23
-14.35: -0.53 -0.44 -0.36 -0.29 -0.20 -0.13 -0.05 0.03 0.10 0.19
-14.45: -0.56 -0.49 -0.40 -0.32 -0.25 -0.16 -0.09 -0.01 0.07 0.14 0.22
-14.55: -0.52 -0.45 -0.36 -0.28 -0.21 -0.12 -0.05 0.03 0.11 0.18
-14.65: -0.57 -0.48 -0.41 -0.32 -0.24 -0.17 -0.08 -0.01 0.07 0.15
-14.75: -0.53 -0.44 -0.37 -0.28 -0.20 -0.13 -0.04 0.03 0.11 0.19
-14.85: -0.56 -0.49 -0.40 -0.33 -0.24 -0.16 -0.09 0.00 0.07 0.14
-14.95: -0.52 -0.45 -0.36 -0.29 -0.20 -0.12 -0.05 0.04 0.11 0.18
-15.05: -0.55 -0.48 -0.40 -0.32 -0.25 -0.16 -0.08 -0.01 0.07 0.15
-15.15: -0.51 -0.44 -0.36 -0.28 -0.21 -0.12 -0.04 0.03 0.11
-15.25: -0.55 -0.47 -0.40 -0.32 -0.24 -0.17 -0.08 0.00 0.07 0.14
-15.35: -0.51 -0.43 -0.36 -0.28 -0.20 -0.13 -0.04 0.04 0.10
-15.45: -0.54 -0.47 -0.39 -0.32 -0.24 -0.16 -0.09 0.00 0.07 0.13
-15.55: -0.50 -0.43 -0.35 -0.28 -0.20 -0.12 -0.05 0.03 0.10
-15.65: -0.53 -0.46 -0.39 -0.31 -0.24 -0.16 -0.08 -0.01 0.06 0.12
-15.75: -0.49 -0.42 -0.35 -0.27 -0.20 -0.12 -0.04 0.03 0.09
-15.85: -0.52 -0.45 -0.38 -0.31 -0.23 -0.15 -0.08 0.00 0.06
-15.95: -0.48 -0.41 -0.34 -0.27 -0.19 -0.11 -0.04 0.03 0.10
-16.05: -0.51 -0.44 -0.37 -0.30 -0.23 -0.15 -0.07 0.00 0.07
-16.15: -0.47 -0.40 -0.33 -0.26 -0.19 -0.11 -0.03 0.04
-16.25: -0.49 -0.42 -0.36 -0.29 -0.22 -0.14 -0.07 0.01 0.08
-16.35: -0.45 -0.38 -0.32 -0.25 -0.18 -0.10 -0.02 0.05
-16.45: -0.41 -0.35 -0.28 -0.21 -0.14 -0.06 0.02
-16.55: -0.38 -0.31 -0.24 -0.17 -0.09 -0.01 0.06
-16.65: -0.34 -0.27 -0.20 -0.12 -0.04 0.03
"""

# death line et death valley (extrémités, en log10)
dl_logP = [-2.0, 1.477]
dl_logPdot = [-20.95, -13.996]
dv_haut = [-19.81, -12.856]
dv_bas = [-21.49, -14.536]


def lirePaires(texte):
    v = np.array(texte.split(), dtype=float).reshape(-1, 2)
    return v[:, 0], v[:, 1]


def lireRangees(texte):
    # chaque ligne : "logPdot: logP logP ..."
    xs, ys = [], []
    for ligne in texte.strip().splitlines():
        y, reste = ligne.split(":")
        for x in reste.split():
            xs.append(float(x))
            ys.append(float(y))
    return np.array(xs), np.array(ys)


sx1, sy1 = lirePaires(sim_points)
sx2, sy2 = lireRangees(sim_core)
sx3, sy3 = lireRangees(sim_centre)
sim_logP = np.concatenate([sx1, sx2, sx3])
sim_logPdot = np.concatenate([sy1, sy2, sy3])

ax1, ay1 = lirePaires(atnf_points)
ax2, ay2 = lireRangees(atnf_core)
atnf_logP = np.concatenate([ax1, ax2])
atnf_logPdot = np.concatenate([ay1, ay2])

# ==================== Figure ====================

fig, ax = plt.subplots(figsize=(6.4, 4.8), dpi=300)

ax.scatter(10**sim_logP, 10**sim_logPdot, s=11.5, c="red", linewidths=0,
           zorder=2, label="Simulation data")
ax.scatter(10**atnf_logP, 10**atnf_logPdot, s=11.5, c="blue", linewidths=0,
           label="ATNF data : canonical pulsars")

P_dl = 10**np.array(dl_logP)
ax.plot(P_dl, 10**np.array(dl_logPdot), color="green", lw=2, label="Death line")
ax.fill_between(P_dl, 10**np.array(dv_bas), 10**np.array(dv_haut),
                color="green", alpha=0.4, linewidth=0, label="Death Valley")

ax.set_xscale("log")
ax.set_yscale("log")
ax.set_xlim(1e-2, 30)
ax.set_ylim(1e-19, 1e-11)
ax.set_xlabel("$P$ (s)")
ax.set_ylabel(r"$\dot{P}$ $(s.s^{-1})$")
ax.legend(loc="lower right", fontsize=7)

fig.savefig("out.png")
